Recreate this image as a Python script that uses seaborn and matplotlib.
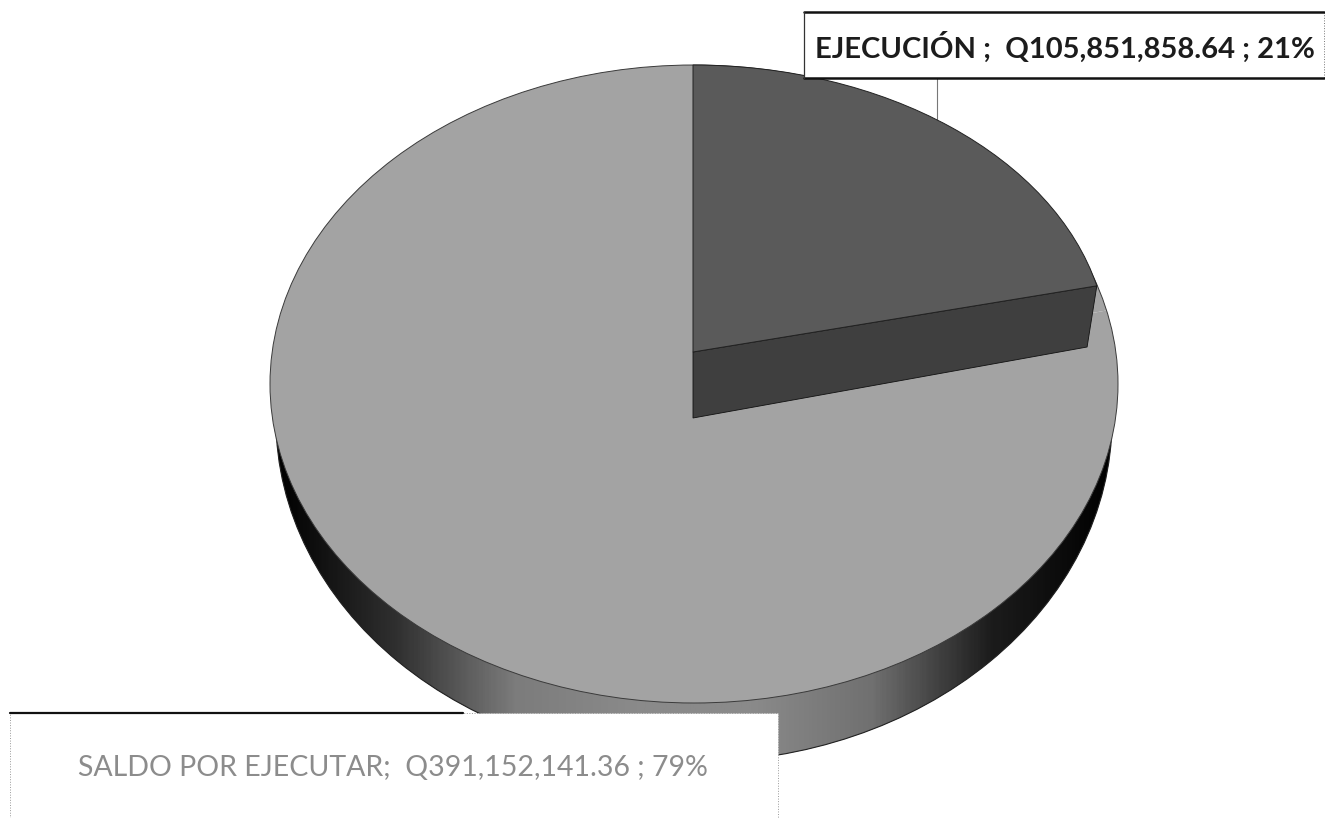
import numpy as np
import matplotlib
matplotlib.use("Agg")
import matplotlib.pyplot as plt
import seaborn as sns
from matplotlib.patches import Ellipse, Rectangle, Polygon
from matplotlib.transforms import Affine2D

# datos del grafico
categorias = ["EJECUCIÓN", "SALDO POR EJECUTAR"]
valores = [105851858.64, 391152141.36]
etiquetas = ["EJECUCIÓN ;  Q105,851,858.64 ; 21%",
             "SALDO POR EJECUTAR;  Q391,152,141.36 ; 79%"]

W, H = 1325, 818

# tapa, pared y porcion levantada, en pixeles de la imagen (cx, cy, rx, ry)
TAPA = (694, 384, 424, 319)
PARED = (694, 420, 418, 342)
OSCURA_ARRIBA = (693, 352, 415, 287)
OSCURA_ABAJO = (693, 418, 405, 308)


def py(y):
    return H - y


def elipse(ax, geom):
    cx, cy, rx, ry = geom
    return Affine2D().scale(rx, ry).translate(cx, py(cy)) + ax.transData


def contorno(ax, geom, z, color="#222222", lw=0.8):
    cx, cy, rx, ry = geom
    ax.add_patch(Ellipse((cx, py(cy)), 2 * rx, 2 * ry, fill=False,
                         edgecolor=color, linewidth=lw, zorder=z))


def borde(geom, ang):
    cx, cy, rx, ry = geom
    return cx + rx * np.sin(ang), py(cy) + ry * np.cos(ang)


sns.set_theme(style="white")
plt.rcParams["font.family"] = ["Lato", "DejaVu Sans"]

fig = plt.figure(figsize=(W / 100, H / 100), dpi=100)
ax = fig.add_axes([0, 0, 1, 1])

# pared lateral con degradado horizontal
degradado = sns.blend_palette(["#000000", "#303030", "#7c7c7c", "#8a8a8a", "#8a8a8a",
                               "#707070", "#1c1c1c", "#000000"], n_colors=256, as_cmap=True)
pared, _ = ax.pie(valores, radius=1, startangle=90, counterclock=False, colors=["#888888", "#888888"])
for w in pared:
    w.set_transform(elipse(ax, PARED))
    w.set_zorder(1)
    w.set_linewidth(0)
    im = ax.imshow(np.linspace(0, 1, 400).reshape(1, -1), cmap=degradado, aspect="auto",
                   extent=(276, 1112, 0, H), zorder=1.2)
    im.set_clip_path(w)
contorno(ax, PARED, 1.5)

# tapa clara
tapa, _ = ax.pie(valores, radius=1, startangle=90, counterclock=False, colors=["#a3a3a3", "#a3a3a3"])
for w in tapa:
    w.set_transform(elipse(ax, TAPA))
    w.set_zorder(2)
    w.set_linewidth(0)
contorno(ax, TAPA, 2.5, color="#3a3a3a", lw=0.7)

# porcion oscura levantada
angulo = 2 * np.pi * valores[0] / sum(valores)
ax.add_patch(Polygon([(OSCURA_ARRIBA[0], py(OSCURA_ARRIBA[1])), borde(OSCURA_ARRIBA, angulo),
                      borde(OSCURA_ABAJO, angulo), (OSCURA_ABAJO[0], py(OSCURA_ABAJO[1]))],
                     closed=True, facecolor="#3f3f3f", edgecolor="#111111", linewidth=0.6, zorder=3))
oscura, _ = ax.pie(valores, radius=1, startangle=90, counterclock=False, colors=["#5a5a5a", "none"])
for w, c in zip(oscura, ["#222222", "none"]):
    w.set_transform(elipse(ax, OSCURA_ARRIBA))
    w.set_zorder(4)
    w.set_edgecolor(c)
    w.set_linewidth(0.7)

# linea guia y cajas de etiqueta
ax.plot([937, 937], [py(78), py(122)], color="#777777", lw=0.8, zorder=3.5)
ax.add_patch(Rectangle((804, py(78)), 520, 66, facecolor="white", edgecolor="#777777",
                       linewidth=0.7, linestyle=":", zorder=5))
ax.plot([804, 1324], [py(12), py(12)], color="#111111", lw=1.8, zorder=6)
ax.plot([804, 1324], [py(78), py(78)], color="#111111", lw=1.8, zorder=6)
ax.plot([804, 804], [py(12), py(78)], color="#333333", lw=0.9, zorder=6)
ax.text(1064.5, py(47), etiquetas[0], ha="center", va="center", fontsize=21,
        fontweight="bold", color="#1c1c1c", zorder=7)

ax.add_patch(Rectangle((10, py(818) - 4), 768, 818 - 713 + 4, facecolor="white", edgecolor="#999999",
                       linewidth=0.7, linestyle=":", zorder=5))
ax.plot([10, 463], [py(713), py(713)], color="#111111", lw=1.6, zorder=6)
ax.text(393, py(768), etiquetas[1], ha="center", va="center", fontsize=20.5,
        color="#8c8c8c", zorder=7)

ax.set_xlim(0, W)
ax.set_ylim(0, H)
ax.set_aspect("auto")
ax.set_axis_off()

fig.savefig("out.png", dpi=100)
